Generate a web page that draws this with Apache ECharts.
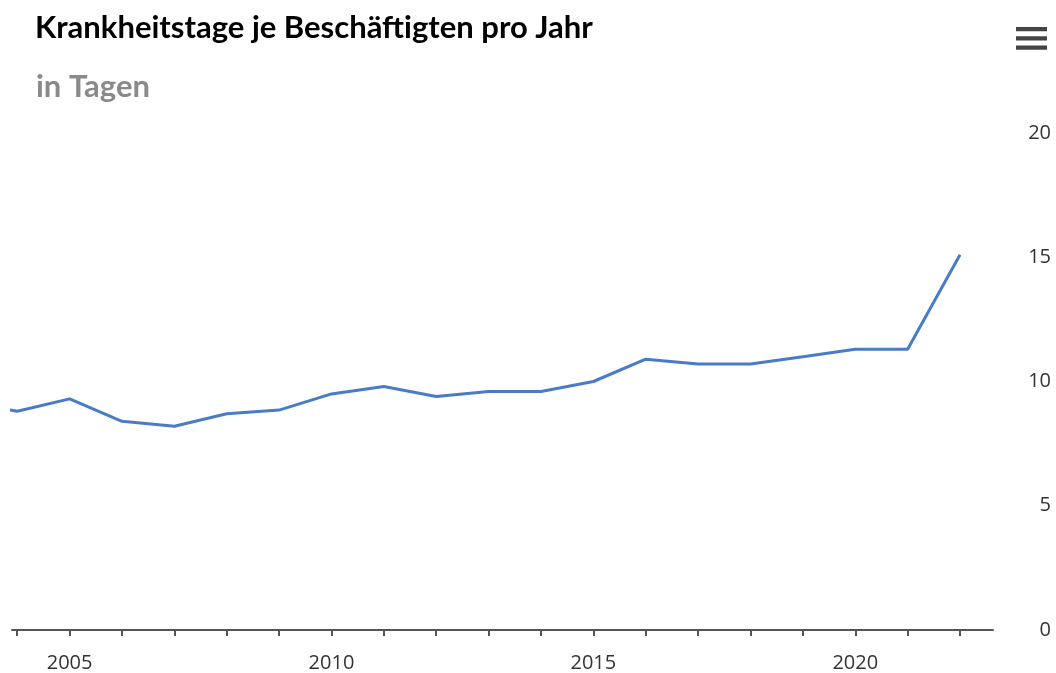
<!DOCTYPE html>
<html>
<head>
<meta charset="utf-8">
<script src="https://cdn.jsdelivr.net/npm/echarts@6/dist/echarts.min.js"></script>
<style>
  html, body { margin: 0; padding: 0; background: #fff; }
  #chart { width: 1056px; height: 673px; }
</style>
</head>
<body>
<div id="chart"></div>
<script>
// Krankheitstage je Beschäftigten
const years = [2003, 2004, 2005, 2006, 2007, 2008, 2009, 2010, 2011, 2012, 2013,
               2014, 2015, 2016, 2017, 2018, 2019, 2020, 2021, 2022];
const days = [9.2, 8.8, 9.3, 8.4, 8.2, 8.7, 8.85, 9.5, 9.8, 9.4, 9.6,
              9.6, 10.0, 10.9, 10.7, 10.7, 11.0, 11.3, 11.3, 15.1];
const tickYears = [2004, 2005, 2006, 2007, 2008, 2009, 2010, 2011, 2012, 2013,
                   2014, 2015, 2016, 2017, 2018, 2019, 2020, 2021, 2022];
const labelYears = [2005, 2010, 2015, 2020];

let myChart = echarts.init(document.getElementById('chart'))
myChart.setOption({
    animation: false,
    title: [
        {
            text: 'Krankheitstage je Beschäftigten pro Jahr',
            left: 30,
            top: 7,
            textStyle: {
                fontFamily: 'Lato',
                fontWeight: 'bold',
                fontSize: 31,
                color: '#000'
            }
        },
        {
            text: 'in Tagen',
            left: 31,
            top: 66,
            textStyle: {
                fontFamily: 'Lato',
                fontWeight: 'bold',
                fontSize: 31,
                color: '#8a8a8a'
            }
        }
    ],
    toolbox: {
        right: -6,
        top: 12,
        itemSize: 31,
        iconStyle: {
            color: '#444',
            borderWidth: 0
        },
        feature: {
            myMenu: {
                show: true,
                title: '',
                icon: 'path://M0,0H30V4H0Z M0,9H30V13H0Z M0,18H30V22H0Z',
                onclick: function () {}
            }
        }
    },
    grid: {
        left: 12,
        right: 63,
        top: 133,
        bottom: 43
    },
    xAxis: {
        type: 'value',
        min: 2003.9,
        max: 2022.63,
        splitLine: { show: false },
        axisLine: {
            show: true,
            lineStyle: { color: '#555', width: 2 }
        },
        axisTick: {
            show: true,
            length: 6,
            customValues: tickYears,
            lineStyle: { color: '#555', width: 2 }
        },
        axisLabel: {
            customValues: labelYears,
            formatter: function (v) { return String(v) },
            margin: 23,
            fontFamily: 'Open Sans',
            fontSize: 20,
            color: '#333'
        }
    },
    yAxis: {
        type: 'value',
        position: 'right',
        min: 0,
        max: 20,
        interval: 5,
        splitLine: { show: false },
        axisLine: { show: false },
        axisTick: { show: false },
        axisLabel: {
            align: 'right',
            margin: 58,
            fontFamily: 'Open Sans',
            fontSize: 20,
            color: '#333'
        }
    },
    series: [
        {
            type: 'line',
            data: years.map((y, i) => [y, days[i]]),
            symbol: 'none',
            clip: true,
            lineStyle: { color: '#4a7bc8', width: 3 }
        }
    ]
})
</script>
</body>
</html>
